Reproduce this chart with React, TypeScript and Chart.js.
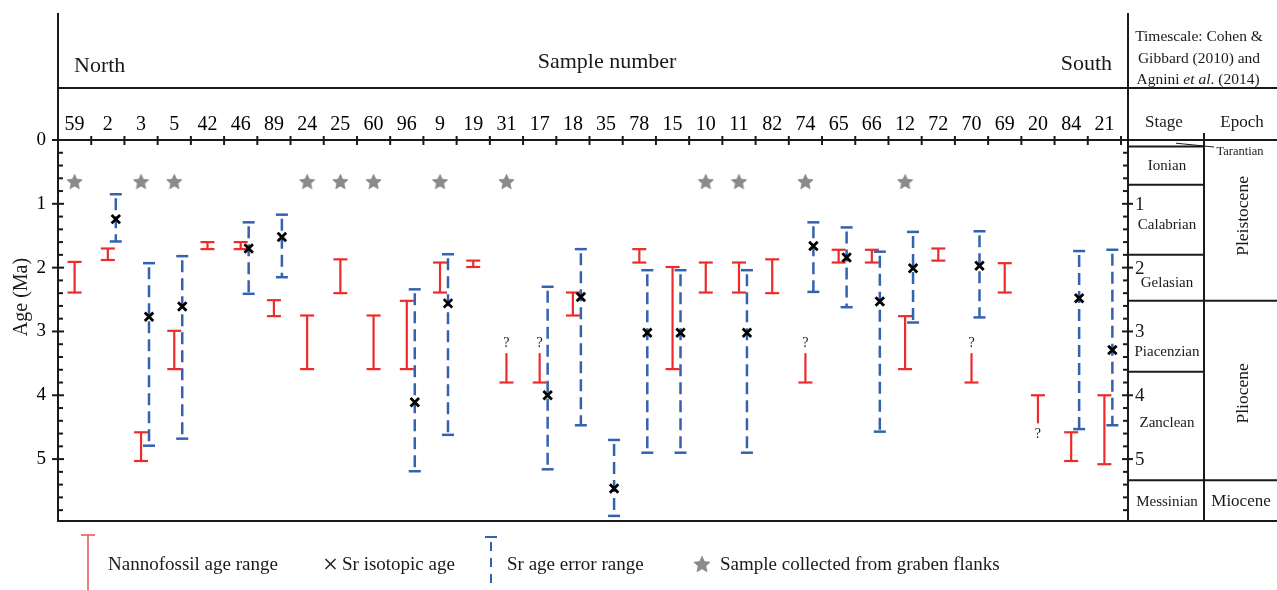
import React, { useEffect, useRef } from 'react';
import { Chart, registerables } from 'chart.js';

Chart.register(...registerables);

// ---------------- data ----------------
const SAMPLES = ['59', '2', '3', '5', '42', '46', '89', '24', '25', '60', '96', '9', '19', '31', '17', '18', '35', '78', '15', '10', '11', '82', '74', '65', '66', '12', '72', '70', '69', '20', '84', '21'];

// Nannofossil age range (Ma): younger end, older end
const NANNO_YOUNG: (number | null)[] = [1.91, 1.70, 4.58, 2.99, 1.60, 1.60, 2.51, 2.75, 1.87, 2.75, 2.52, 1.92, 1.89, 3.34, 3.34, 2.39, null, 1.71, 1.99, 1.92, 1.92, 1.87, 3.34, 1.72, 1.72, 2.76, 1.70, 3.34, 1.93, 4.00, 4.58, 4.00];
const NANNO_OLD: (number | null)[] = [2.39, 1.88, 5.03, 3.59, 1.71, 1.71, 2.76, 3.59, 2.40, 3.59, 3.59, 2.39, 1.99, 3.80, 3.80, 2.75, null, 1.92, 3.59, 2.39, 2.39, 2.40, 3.80, 1.92, 1.92, 3.59, 1.89, 3.80, 2.39, 4.44, 5.03, 5.08];
// uncertain (open) end of the nannofossil range, marked with "?"
const NANNO_OPEN: ('young' | 'old' | null)[] = [null, null, null, null, null, null, null, null, null, null, null, null, null, 'young', 'young', null, null, null, null, null, null, null, 'young', null, null, null, null, 'young', null, 'old', null, null];

// Sr isotopic age and its error range (Ma)
const SR_AGE: (number | null)[] = [null, 1.24, 2.77, 2.61, null, 1.70, 1.52, null, null, null, 4.11, 2.56, null, null, 4.00, 2.46, 5.46, 3.02, 3.02, null, 3.02, null, 1.66, 1.84, 2.53, 2.01, null, 1.97, null, null, 2.48, 3.29];
const SR_YOUNG: (number | null)[] = [null, 0.85, 1.93, 1.82, null, 1.29, 1.17, null, null, null, 2.34, 1.79, null, null, 2.30, 1.71, 4.70, 2.04, 2.04, null, 2.04, null, 1.29, 1.37, 1.75, 1.44, null, 1.43, null, null, 1.74, 1.72];
const SR_OLD: (number | null)[] = [null, 1.59, 4.79, 4.68, null, 2.41, 2.15, null, null, null, 5.19, 4.62, null, null, 5.16, 4.47, 5.89, 4.90, 4.90, null, 4.90, null, 2.38, 2.62, 4.57, 2.86, null, 2.78, null, null, 4.53, 4.47];

// samples collected from graben flanks
const GRABEN = ['59', '3', '5', '24', '25', '60', '9', '31', '10', '11', '74', '12'];

const Y_TICKS = [0, 1, 2, 3, 4, 5];
const AGE_MAX = 5.97;

// timescale (Cohen & Gibbard 2010; Agnini et al. 2014)
const STAGES = ['Tarantian', 'Ionian', 'Calabrian', 'Gelasian', 'Piacenzian', 'Zanclean', 'Messinian'];
const STAGE_TOPS = [0, 0.1, 0.7, 1.8, 2.52, 3.63, 5.33];
const STAGE_LABEL_AGES = [0.19, 0.41, 1.33, 2.24, 3.32, 4.44, 5.67];
const EPOCHS = ['Pleistocene', 'Pliocene', 'Miocene'];
const EPOCH_TOPS = [0, 2.52, 5.33];
const EPOCH_LABEL_AGES = [1.19, 3.97, 5.67];

// ---------------- style / layout ----------------
const FONT = "'Liberation Serif', 'Times New Roman', Times, serif";
const font = (size: number, style = '') => `${style} ${size}px ${FONT}`.trim();
const RED = '#ee2b2b';
const BLUE = '#3462b0';
const INK = '#1a1a1a';
const BLUE_SHIFT = 0.24; // blue bars sit just right of the category centre
const STAR_ROW = 0.65;

const W = 1277;
const H = 590;
const PLOT_LEFT = 58;
const PLOT_TOP = 140;
const PLOT_RIGHT = 1121;
const PLOT_BOTTOM = 521;
const HEAD_TOP = 13;
const HEAD_MID = 88;
const PANEL_X = 1128;
const PANEL_MID = 1204;

function makeStar(size: number, color: string) {
  const c = document.createElement('canvas');
  c.width = size;
  c.height = size;
  const g = c.getContext('2d')!;
  const cx = size / 2;
  const cy = size / 2 + 0.8;
  const R = size / 2 - 0.5;
  const r = R * 0.47;
  g.beginPath();
  for (let k = 0; k < 10; k++) {
    const rad = k % 2 === 0 ? R : r;
    const a = -Math.PI / 2 + (k * Math.PI) / 5;
    const px = cx + rad * Math.cos(a);
    const py = cy + rad * Math.sin(a);
    if (k === 0) g.moveTo(px, py);
    else g.lineTo(px, py);
  }
  g.closePath();
  g.fillStyle = color;
  g.fill();
  g.strokeStyle = '#777';
  g.lineWidth = 0.6;
  g.stroke();
  return c;
}

function line(ctx: CanvasRenderingContext2D, x1: number, y1: number, x2: number, y2: number) {
  ctx.beginPath();
  ctx.moveTo(x1, y1);
  ctx.lineTo(x2, y2);
  ctx.stroke();
}

function text(ctx: CanvasRenderingContext2D, s: string, x: number, y: number, f: string, align: CanvasTextAlign = 'left', baseline: CanvasTextBaseline = 'alphabetic') {
  ctx.font = f;
  ctx.textAlign = align;
  ctx.textBaseline = baseline;
  ctx.fillStyle = INK;
  ctx.fillText(s, x, y);
}

const figurePlugin = {
  id: 'figure',
  beforeDatasetsDraw(chart: any) {
    const ctx: CanvasRenderingContext2D = chart.ctx;
    const xs = chart.scales.xv;
    const ys = chart.scales.y;
    ctx.save();
    ctx.lineCap = 'butt';
    // nannofossil ranges (red)
    ctx.strokeStyle = RED;
    ctx.lineWidth = 2.2;
    NANNO_YOUNG.forEach((yv, i) => {
      const ov = NANNO_OLD[i];
      if (yv == null || ov == null) return;
      const x = xs.getPixelForValue(i + 0.5);
      const y1 = ys.getPixelForValue(yv);
      const y2 = ys.getPixelForValue(ov);
      line(ctx, x, y1, x, y2);
      if (NANNO_OPEN[i] !== 'young') line(ctx, x - 7, y1, x + 7, y1);
      if (NANNO_OPEN[i] !== 'old') line(ctx, x - 7, y2, x + 7, y2);
      if (NANNO_OPEN[i] === 'young') text(ctx, '?', x, y1 - 10, font(14), 'center', 'middle');
      if (NANNO_OPEN[i] === 'old') text(ctx, '?', x, y2 + 11, font(14), 'center', 'middle');
    });
    // Sr error ranges (blue dashed)
    ctx.strokeStyle = BLUE;
    ctx.lineWidth = 2.5;
    SR_YOUNG.forEach((yv, i) => {
      const ov = SR_OLD[i];
      if (yv == null || ov == null) return;
      const x = xs.getPixelForValue(i + 0.5 + BLUE_SHIFT);
      const y1 = ys.getPixelForValue(yv);
      const y2 = ys.getPixelForValue(ov);
      ctx.setLineDash([]);
      line(ctx, x - 6, y1, x + 6, y1);
      line(ctx, x - 6, y2, x + 6, y2);
      ctx.setLineDash([12, 6]);
      ctx.lineDashOffset = -4;
      line(ctx, x, y1, x, y2);
    });
    ctx.setLineDash([]);
    ctx.restore();
  },
  afterDraw(chart: any) {
    const ctx: CanvasRenderingContext2D = chart.ctx;
    const xs = chart.scales.xv;
    const ys = chart.scales.y;
    ctx.save();
    ctx.strokeStyle = INK;
    ctx.lineCap = 'butt';

    // frame
    ctx.lineWidth = 2;
    line(ctx, PLOT_LEFT, HEAD_TOP, PLOT_LEFT, PLOT_BOTTOM + 1);
    line(ctx, PANEL_X, HEAD_TOP, PANEL_X, PLOT_BOTTOM + 1);
    line(ctx, PLOT_LEFT, HEAD_MID, W, HEAD_MID);
    line(ctx, PLOT_LEFT, PLOT_TOP, W, PLOT_TOP);
    line(ctx, PLOT_LEFT - 1, PLOT_BOTTOM, W, PLOT_BOTTOM);

    // category boundary ticks on the top axis
    for (let i = 0; i <= SAMPLES.length; i++) {
      const x = xs.getPixelForValue(i);
      line(ctx, x, PLOT_TOP - 4, x, PLOT_TOP + 5);
    }

    // age ticks: main axis and timescale axis
    for (let k = 0; k <= 29; k++) {
      const v = k * 0.2;
      if (v > AGE_MAX) break;
      const y = ys.getPixelForValue(v);
      const major = k % 5 === 0;
      if (major) {
        line(ctx, PLOT_LEFT - 6, y, PLOT_LEFT + 6, y);
        if (k > 0) line(ctx, PANEL_X - 6, y, PANEL_X + 5, y);
      } else {
        line(ctx, PLOT_LEFT, y, PLOT_LEFT + 5, y);
        line(ctx, PANEL_X - 5, y, PANEL_X, y);
      }
    }
    Y_TICKS.forEach((v) => {
      if (v === 0) return;
      text(ctx, String(v), PANEL_X + 7, ys.getPixelForValue(v) + 1, font(19), 'left', 'middle');
    });

    // timescale boxes
    ctx.lineWidth = 2;
    line(ctx, PANEL_MID, PLOT_TOP - 7, PANEL_MID, PLOT_BOTTOM);
    STAGE_TOPS.forEach((t, i) => {
      if (i === 0) return;
      const y = ys.getPixelForValue(t);
      const spans = EPOCH_TOPS.includes(t);
      line(ctx, PANEL_X, y, spans ? W : PANEL_MID, y);
    });
    // stage labels
    STAGES.forEach((s, i) => {
      if (i === 0) return;
      text(ctx, s, (PANEL_X + PANEL_MID) / 2 + 1, ys.getPixelForValue(STAGE_LABEL_AGES[i]), font(15), 'center', 'middle');
    });
    // Tarantian label with leader
    ctx.lineWidth = 1;
    line(ctx, 1176, ys.getPixelForValue(0.05), 1214, ys.getPixelForValue(0.11));
    text(ctx, STAGES[0], 1240, ys.getPixelForValue(STAGE_LABEL_AGES[0]), font(12.5), 'center', 'middle');
    // epoch labels
    EPOCHS.forEach((e, i) => {
      const y = ys.getPixelForValue(EPOCH_LABEL_AGES[i]);
      if (i < 2) {
        ctx.save();
        ctx.translate(1243, y);
        ctx.rotate(-Math.PI / 2);
        text(ctx, e, 0, 0, font(17.5), 'center', 'middle');
        ctx.restore();
      } else {
        text(ctx, e, 1241, y, font(17), 'center', 'middle');
      }
    });

    // header
    text(ctx, 'North', 74, 72, font(22));
    text(ctx, 'Sample number', 607, 68, font(22), 'center');
    text(ctx, 'South', 1112, 70, font(22), 'right');
    text(ctx, 'Timescale: Cohen &', 1199, 41, font(15.5), 'center');
    text(ctx, 'Gibbard (2010) and', 1199, 63, font(15.5), 'center');
    {
      const parts: [string, string][] = [['Agnini ', ''], ['et al', 'italic'], ['. (2014)', '']];
      let total = 0;
      parts.forEach(([s, st]) => {
        ctx.font = font(15.5, st);
        total += ctx.measureText(s).width;
      });
      let x = 1198 - total / 2;
      parts.forEach(([s, st]) => {
        text(ctx, s, x, 84, font(15.5, st), 'left');
        ctx.font = font(15.5, st);
        x += ctx.measureText(s).width;
      });
    }
    text(ctx, 'Stage', 1164, 127, font(17), 'center');
    text(ctx, 'Epoch', 1242, 127, font(17), 'center');

    // y-axis title
    ctx.save();
    ctx.translate(22, 297);
    ctx.rotate(-Math.PI / 2);
    text(ctx, 'Age (Ma)', 0, 0, font(20), 'center', 'middle');
    ctx.restore();

    // legend
    const LY = 564;
    ctx.strokeStyle = '#f05a5a';
    ctx.lineWidth = 1.6;
    line(ctx, 88, 535, 88, H);
    line(ctx, 81, 535, 95, 535);
    text(ctx, 'Nannofossil age range', 108, LY + 6, font(19));
    ctx.strokeStyle = '#222';
    ctx.lineWidth = 1.5;
    line(ctx, 325.5, LY - 5, 335.5, LY + 5);
    line(ctx, 335.5, LY - 5, 325.5, LY + 5);
    text(ctx, 'Sr isotopic age', 342, LY + 6, font(19));
    ctx.strokeStyle = BLUE;
    ctx.lineWidth = 2;
    line(ctx, 485, 537, 497, 537);
    ctx.setLineDash([9, 7]);
    line(ctx, 491, 542, 491, H);
    ctx.setLineDash([]);
    text(ctx, 'Sr age error range', 507, LY + 6, font(19));
    const star = (chart as any).$legendStar as HTMLCanvasElement;
    if (star) ctx.drawImage(star, 702 - star.width / 2, LY - star.height / 2);
    text(ctx, 'Sample collected from graben flanks', 720, LY + 6, font(19));

    ctx.restore();
  },
};

export default function App() {
  const ref = useRef<HTMLCanvasElement>(null);
  useEffect(() => {
    const canvas = ref.current;
    if (!canvas) return;
    const starImg = makeStar(17, '#8b8b8b');
    const legendStar = makeStar(18, '#8b8b8b');
    const crossPts = SR_AGE.map((v, i) => (v == null ? null : { x: i + 0.5 + BLUE_SHIFT, y: v })).filter(Boolean) as { x: number; y: number }[];
    const starPts = GRABEN.map((s) => ({ x: SAMPLES.indexOf(s) + 0.5, y: STAR_ROW }));
    const chart = new Chart(canvas, {
      type: 'scatter',
      data: {
        datasets: [
          {
            label: 'Sr isotopic age',
            data: crossPts,
            xAxisID: 'xv',
            yAxisID: 'y',
            pointStyle: 'crossRot',
            pointRadius: 6,
            borderWidth: 2.8,
            borderColor: '#000',
            backgroundColor: '#000',
          },
          {
            label: 'Sample collected from graben flanks',
            data: starPts,
            xAxisID: 'xv',
            yAxisID: 'y',
            pointStyle: starImg as any,
            pointRadius: 8,
          },
        ],
      },
      options: {
        responsive: false,
        animation: false,
        devicePixelRatio: 1,
        layout: { padding: { left: 0, top: 0, right: W - PLOT_RIGHT, bottom: H - PLOT_BOTTOM } },
        plugins: { legend: { display: false }, tooltip: { enabled: false } },
        scales: {
          x: {
            type: 'category',
            labels: SAMPLES,
            position: 'top',
            offset: true,
            grid: { display: false, drawTicks: false },
            border: { display: false },
            ticks: { color: '#000', font: { family: FONT, size: 20 }, padding: 3, maxRotation: 0, autoSkip: false },
            afterFit: (s: any) => {
              s.height = PLOT_TOP;
            },
          } as any,
          xv: { type: 'linear', display: false, min: 0, max: SAMPLES.length },
          y: {
            type: 'linear',
            position: 'left',
            reverse: true,
            min: 0,
            max: AGE_MAX,
            grid: { display: false, drawTicks: false },
            border: { display: false },
            ticks: { color: '#000', font: { family: FONT, size: 19 }, padding: 12 },
            afterBuildTicks: (s: any) => {
              s.ticks = Y_TICKS.map((v) => ({ value: v }));
            },
            afterFit: (s: any) => {
              s.width = PLOT_LEFT;
            },
          } as any,
        },
      },
      plugins: [figurePlugin as any],
    });
    (chart as any).$legendStar = legendStar;
    chart.draw();
    return () => chart.destroy();
  }, []);
  return (
    <div style={{ position: 'absolute', left: 0, top: 0, width: W, height: H, background: '#fff' }}>
      <canvas ref={ref} width={W} height={H} style={{ display: 'block', width: W, height: H }} />
    </div>
  );
}
